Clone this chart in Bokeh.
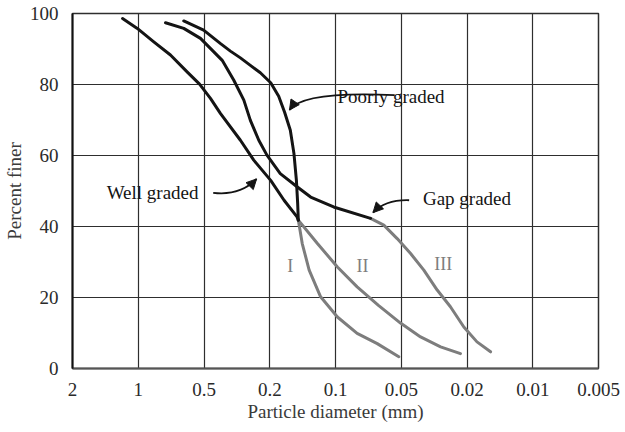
import numpy as np
from bokeh.plotting import figure
from bokeh.models import FixedTicker, Range1d, Label, Arrow, NormalHead
from bokeh.embed import file_html
from bokeh.resources import INLINE

# x tick values (mm), equally spaced on the chart
tick_mm = [2, 1, 0.5, 0.2, 0.1, 0.05, 0.02, 0.01, 0.005]
tick_labels = ["2", "1", "0.5", "0.2", "0.1", "0.05", "0.02", "0.01", "0.005"]
y_ticks = [0, 20, 40, 60, 80, 100]

# curves: particle diameter (mm) and percent finer
well_d = [1.18, 1.01, 0.849, 0.712, 0.596, 0.524, 0.457, 0.397, 0.301, 0.250, 0.198, 0.172, 0.150, 0.148]
well_p = [98.6, 95.8, 92.0, 88.3, 83.5, 80.1, 76.1, 71.8, 64.3, 58.7, 53.0, 47.4, 42.7, 41.8]

poor_d = [0.619, 0.502, 0.397, 0.346, 0.301, 0.262, 0.228, 0.198, 0.182, 0.171, 0.161, 0.155, 0.151, 0.149, 0.148]
poor_p = [97.9, 95.3, 91.5, 89.4, 87.5, 85.4, 83.3, 80.5, 76.7, 72.2, 67.1, 60.6, 53.0, 46.5, 41.8]

gap_d = [0.750, 0.619, 0.519, 0.436, 0.388, 0.330, 0.287, 0.262, 0.233, 0.208, 0.179, 0.150, 0.130, 0.102, 0.0691]
gap_p = [97.4, 95.8, 93.0, 89.2, 86.8, 81.2, 75.6, 69.9, 64.3, 60.1, 54.9, 51.2, 48.3, 45.5, 42.3]

curve1_d = [0.148, 0.142, 0.132, 0.117, 0.098, 0.0796, 0.0644, 0.0513]
curve1_p = [41.8, 35.2, 27.7, 20.2, 14.5, 9.9, 7.0, 3.3]

curve2_d = [0.148, 0.121, 0.098, 0.0796, 0.0636, 0.0504, 0.0382, 0.0289, 0.0219]
curve2_p = [41.8, 35.2, 28.6, 23.0, 17.8, 12.8, 8.9, 6.1, 4.2]

curve3_d = [0.0691, 0.0601, 0.0522, 0.0439, 0.0365, 0.0303, 0.0252, 0.0209, 0.018, 0.0156]
curve3_p = [42.3, 40.4, 36.6, 32.4, 27.7, 22.1, 17.4, 11.7, 7.5, 4.7]

log_ticks = -np.log10(np.array(tick_mm))
def pos(d):
    return np.interp(-np.log10(np.array(d, dtype=float)), log_ticks, np.arange(len(tick_mm)))

SERIF = "Liberation Serif"
BLACK = "#141414"
GRAY = "#7d7d7d"

p = figure(width=625, height=432, output_backend="svg", toolbar_location=None,
           x_range=Range1d(0, 8), y_range=Range1d(0, 100),
           min_border_left=72, min_border_right=27, min_border_top=13, min_border_bottom=64,
           background_fill_color="white", border_fill_color="white")
p.title.visible = False

p.xaxis.ticker = FixedTicker(ticks=list(range(len(tick_mm))))
p.xaxis.major_label_overrides = {i: lab for i, lab in enumerate(tick_labels)}
p.yaxis.ticker = FixedTicker(ticks=y_ticks)
p.xgrid.ticker = FixedTicker(ticks=list(range(len(tick_mm))))
p.ygrid.ticker = FixedTicker(ticks=y_ticks)
p.grid.grid_line_color = "#2e2e2e"
p.grid.grid_line_width = 1.2
p.outline_line_color = "#2e2e2e"
p.outline_line_width = 1.5

for ax in (p.xaxis, p.yaxis):
    ax.major_tick_line_color = None
    ax.minor_tick_line_color = None
    ax.major_label_text_font = SERIF
    ax.major_label_text_font_size = "19px"
    ax.major_label_text_color = "#2a2a2a"
    ax.axis_label_text_font = SERIF
    ax.axis_label_text_font_size = "19px"
    ax.axis_label_text_font_style = "normal"
    ax.axis_label_text_color = "#3a3a3a"

p.xaxis.axis_label = "Particle diameter (mm)"
p.yaxis.axis_label = "Percent finer"
p.xaxis.major_label_standoff = 8
p.xaxis.axis_label_standoff = 2
p.yaxis.major_label_standoff = 8
p.yaxis.axis_label_standoff = 2
p.yaxis.axis_line_color = "#111111"
p.yaxis.axis_line_width = 2
p.xaxis.axis_line_color = "#555555"
p.xaxis.axis_line_width = 2

# gray continuation curves
for d, pc in ((curve1_d, curve1_p), (curve2_d, curve2_p), (curve3_d, curve3_p)):
    p.line(pos(d), pc, line_color=GRAY, line_width=3, line_join="round", line_cap="round")
# black curves
for d, pc in ((well_d, well_p), (poor_d, poor_p), (gap_d, gap_p)):
    p.line(pos(d), pc, line_color=BLACK, line_width=3, line_join="round", line_cap="round")

# labels
def lab(x, y, t, color=BLACK, size="19px", align="left"):
    p.add_layout(Label(x=x, y=y, text=t, text_font=SERIF, text_font_size=size,
                       text_color=color, text_baseline="middle", text_align=align))

lab(4.03, 76.7, "Poorly graded")
lab(0.52, 49.7, "Well graded")
lab(5.33, 48.0, "Gap graded")
lab(3.31, 29.0, "I", GRAY, "18px", "center")
lab(4.41, 29.0, "II", GRAY, "18px", "center")
lab(5.64, 29.5, "III", GRAY, "18px", "center")

# curved arrows: (tail, control, head)
arrows = [((4.90, 77.0), (3.50, 78.2), (3.30, 72.8)),
          ((2.14, 49.5), (2.55, 48.6), (2.80, 53.4)),
          ((5.12, 47.4), (4.76, 47.6), (4.57, 43.9))]
for (x0, y0), (cx, cy), (x1, y1) in arrows:
    p.quadratic(x0=[x0], y0=[y0], cx=[cx], cy=[cy], x1=[x1], y1=[y1],
                line_color=BLACK, line_width=1.8)
    dx, dy = x1 - cx, y1 - cy
    p.add_layout(Arrow(end=NormalHead(size=10, fill_color=BLACK, line_color=BLACK),
                       x_start=x1 - 0.02 * dx, y_start=y1 - 0.02 * dy, x_end=x1, y_end=y1,
                       line_color=BLACK, line_width=1.8))

open("out.html", "w").write(file_html(p, INLINE))
